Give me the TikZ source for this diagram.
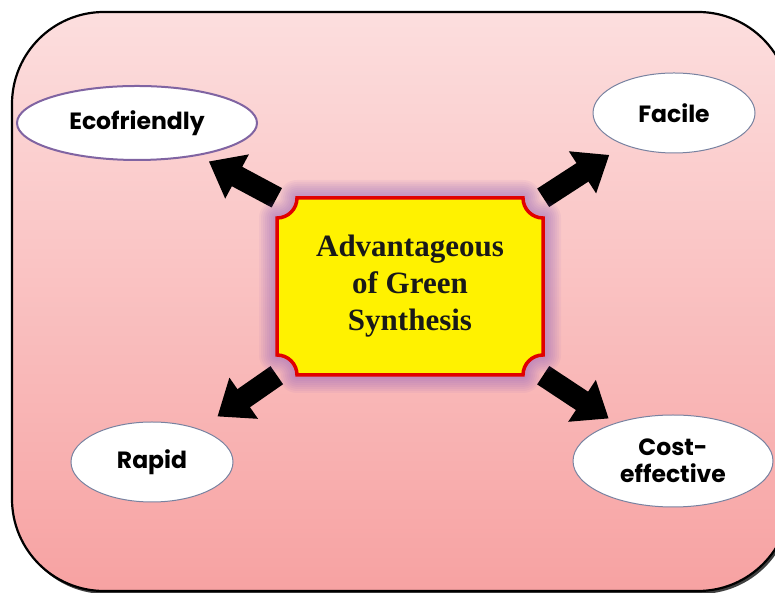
\documentclass[tikz,border=0pt]{standalone}
\usepackage{fontspec}
\setmainfont{Liberation Serif}
\newfontfamily\labelfont{Poppins}
\usetikzlibrary{shapes.geometric,arrows.meta}
\definecolor{bgtop}{RGB}{252,222,222}
\definecolor{bgbot}{RGB}{247,162,162}
\definecolor{ecoline}{RGB}{128,100,162}
\definecolor{leafline}{RGB}{120,130,160}
\definecolor{glow}{RGB}{140,90,185}
\definecolor{boxred}{RGB}{225,0,0}
\newcommand\notchoutline{(297,395) -- (523,395) arc[start angle=180,end angle=270,radius=20] -- (543,238) arc[start angle=90,end angle=180,radius=20] -- (297,218) arc[start angle=0,end angle=90,radius=20] -- (277,375) arc[start angle=270,end angle=360,radius=20] -- cycle}
\begin{document}
\begin{tikzpicture}[x=1pt,y=1pt,
  leaf/.style={ellipse, draw=leafline, line width=1pt, fill=white, inner sep=0pt,
    font=\labelfont\bfseries\fontsize{23.5}{27}\selectfont, align=center, text=black},
  bigarrow/.style={line width=22pt, black, -{Triangle[width=48pt,length=32pt]}, shorten >=#1},
  bigarrow/.default=14pt,
  glowline/.style={glow, opacity=0.07, line join=round, line width=#1}]
\useasboundingbox (0,0) rectangle (775,593);
\clip (0,0) rectangle (775,593);
% outer panel
\fill[black!75, rounded corners=92pt] (14,-1) rectangle (792,579);
\shadedraw[top color=bgtop, bottom color=bgbot, draw=black, line width=2.2pt, rounded corners=92pt] (12,2) rectangle (790,581);
% nodes
\node[leaf, draw=ecoline, line width=2pt, minimum width=240pt, minimum height=74pt] (eco) at (137,470) {Ecofriendly};
\node[leaf, minimum width=162pt, minimum height=80pt] (facile) at (674,480) {Facile};
\node[leaf, minimum width=162pt, minimum height=80pt] (rapid) at (152,131) {Rapid};
\node[leaf, minimum width=200pt, minimum height=92pt] (cost) at (673,132) {Cost-\\effective};
\node[minimum width=266pt, minimum height=177pt, inner sep=0pt] (c) at (410,306.5) {};
% arrows
\draw[bigarrow=12pt] (c.north west) -- (eco);
\draw[bigarrow=18pt] (c.north east) -- (facile);
\draw[bigarrow=22pt] (c.south west) -- (rapid);
\draw[bigarrow=8pt] (c.south east) -- (cost);
% central box with glow
\foreach \w in {36,32,28,24,20,16,12,8}{\draw[glowline=\w pt] \notchoutline;}
\filldraw[fill=yellow, draw=boxred, line width=3.5pt] \notchoutline;
\node[align=center, font=\bfseries\fontsize{31}{37}\selectfont, text=black!90] (ctext) at (c) {Advantageous\\of Green\\Synthesis};
\end{tikzpicture}
\end{document}
